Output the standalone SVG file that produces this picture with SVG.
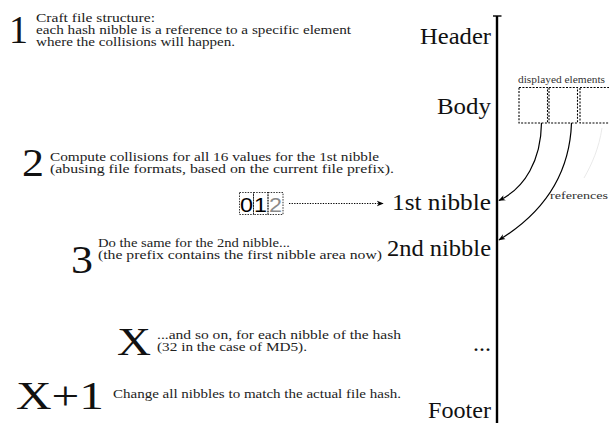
<svg xmlns="http://www.w3.org/2000/svg" width="609" height="423" viewBox="0 0 609 423">
<style>
.big{font-family:"Liberation Serif","DejaVu Serif","Noto Serif",serif;font-size:40px;fill:#111}
.txt{font-family:"Liberation Serif","DejaVu Serif","Noto Serif",serif;font-size:11.5px;fill:#222}
.lbl{font-family:"Liberation Serif","DejaVu Serif","Noto Serif",serif;font-size:23px;fill:#111}
.small{font-family:"Liberation Serif","DejaVu Serif","Noto Serif",serif;font-size:10px;fill:#333}
.box{fill:none;stroke:#000;stroke-width:1.1;stroke-dasharray:2,1.4}
.hx{fill:none;stroke:#000;stroke-width:0.8;stroke-dasharray:1.5,1.2}
.conn{fill:none;stroke:#000;stroke-width:1.2}
.hex{font-family:"Liberation Sans","DejaVu Sans",sans-serif;font-size:21px}
</style>
<defs>
<marker id="ah" viewBox="0 0 10 10" refX="9" refY="5" markerWidth="7" markerHeight="7" orient="auto" markerUnits="userSpaceOnUse">
<path d="M0,1 L10,5 L0,9 L3,5 Z" fill="#000"/>
</marker>
</defs>
<g id="axis">
<line x1="497" y1="16" x2="497" y2="423" stroke="#000" stroke-width="2.4"/>
<line x1="493" y1="16" x2="501.5" y2="16" stroke="#000" stroke-width="1.4"/>
</g>
<g id="header"><text class="lbl" x="420" y="44" textLength="71" lengthAdjust="spacingAndGlyphs">Header</text></g>
<g id="body"><text class="lbl" x="437" y="114" textLength="54" lengthAdjust="spacingAndGlyphs">Body</text></g>
<g id="nibble1"><text class="lbl" x="392" y="210" textLength="99" lengthAdjust="spacingAndGlyphs">1st nibble</text></g>
<g id="nibble2"><text class="lbl" x="387" y="256" textLength="104" lengthAdjust="spacingAndGlyphs">2nd nibble</text></g>
<g id="dots"><text class="lbl" x="473" y="351" textLength="18" lengthAdjust="spacingAndGlyphs">...</text></g>
<g id="footer"><text class="lbl" x="428" y="418" textLength="63" lengthAdjust="spacingAndGlyphs">Footer</text></g>
<g id="elements">
<text class="small" x="518" y="83" textLength="87" lengthAdjust="spacingAndGlyphs">displayed elements</text>
<rect class="box" x="519" y="87.5" width="28.5" height="35.5"/>
<rect class="box" x="549" y="87.5" width="28.5" height="35.5"/>
<rect class="box" x="580" y="87.5" width="32" height="35.5" stroke="#c4c4c4"/>
</g>
<g id="connectors">
<path class="conn" d="M541.5,123 C541,160 525,188 499,200.5" marker-end="url(#ah)"/>
<path class="conn" d="M571.5,123 C570,165 553,207 499,240" marker-end="url(#ah)"/>
<path d="M602,128 C599,148 592,164 584,178" fill="none" stroke="#e6e6e6" stroke-width="0.9"/>
<line x1="289" y1="203.5" x2="383" y2="203.5" stroke="#000" stroke-width="1" stroke-dasharray="1.3,1.3" marker-end="url(#ah)"/>
</g>
<g id="references"><text class="small" x="550" y="199" font-size="11" textLength="58" lengthAdjust="spacingAndGlyphs">references</text></g>
<g id="step1">
<text class="big" x="9" y="43" textLength="19" lengthAdjust="spacingAndGlyphs">1</text>
<text class="txt" x="36" y="22" textLength="119" lengthAdjust="spacingAndGlyphs">Craft file structure:</text>
<text class="txt" x="36" y="34" textLength="315" lengthAdjust="spacingAndGlyphs">each hash nibble is a reference to a specific element</text>
<text class="txt" x="36" y="46" textLength="199" lengthAdjust="spacingAndGlyphs">where the collisions will happen.</text>
</g>
<g id="step2">
<text class="big" x="22" y="176" textLength="22" lengthAdjust="spacingAndGlyphs">2</text>
<text class="txt" x="50" y="161" textLength="329" lengthAdjust="spacingAndGlyphs">Compute collisions for all 16 values for the 1st nibble</text>
<text class="txt" x="50" y="173" textLength="344" lengthAdjust="spacingAndGlyphs">(abusing file formats, based on the current file prefix).</text>
</g>
<g id="hex">
<rect class="hx" x="239.5" y="192.5" width="14" height="22"/>
<rect class="hx" x="253.5" y="192.5" width="14.5" height="22"/>
<rect class="hx" x="268" y="192.5" width="15" height="22" stroke="#aaa"/>
<text class="hex" x="240" y="212" fill="#000" textLength="13" lengthAdjust="spacingAndGlyphs">0</text>
<text class="hex" x="254" y="212" fill="#000" textLength="13" lengthAdjust="spacingAndGlyphs">1</text>
<text class="hex" x="269" y="212" fill="#8a8a8a" textLength="13" lengthAdjust="spacingAndGlyphs">2</text>
</g>
<g id="step3">
<text class="big" x="71" y="273" textLength="22" lengthAdjust="spacingAndGlyphs">3</text>
<text class="txt" x="98" y="247" textLength="192" lengthAdjust="spacingAndGlyphs">Do the same for the 2nd nibble...</text>
<text class="txt" x="98" y="259" textLength="284" lengthAdjust="spacingAndGlyphs">(the prefix contains the first nibble area now)</text>
</g>
<g id="stepX">
<text class="big" x="117" y="355" textLength="34" lengthAdjust="spacingAndGlyphs">X</text>
<text class="txt" x="157" y="339" textLength="244" lengthAdjust="spacingAndGlyphs">...and so on, for each nibble of the hash</text>
<text class="txt" x="157" y="351" textLength="150" lengthAdjust="spacingAndGlyphs">(32 in the case of MD5).</text>
</g>
<g id="stepX1">
<text class="big" x="16" y="409" textLength="88" lengthAdjust="spacingAndGlyphs">X+1</text>
<text class="txt" x="113" y="398" textLength="288" lengthAdjust="spacingAndGlyphs">Change all nibbles to match the actual file hash.</text>
</g>
</svg>
